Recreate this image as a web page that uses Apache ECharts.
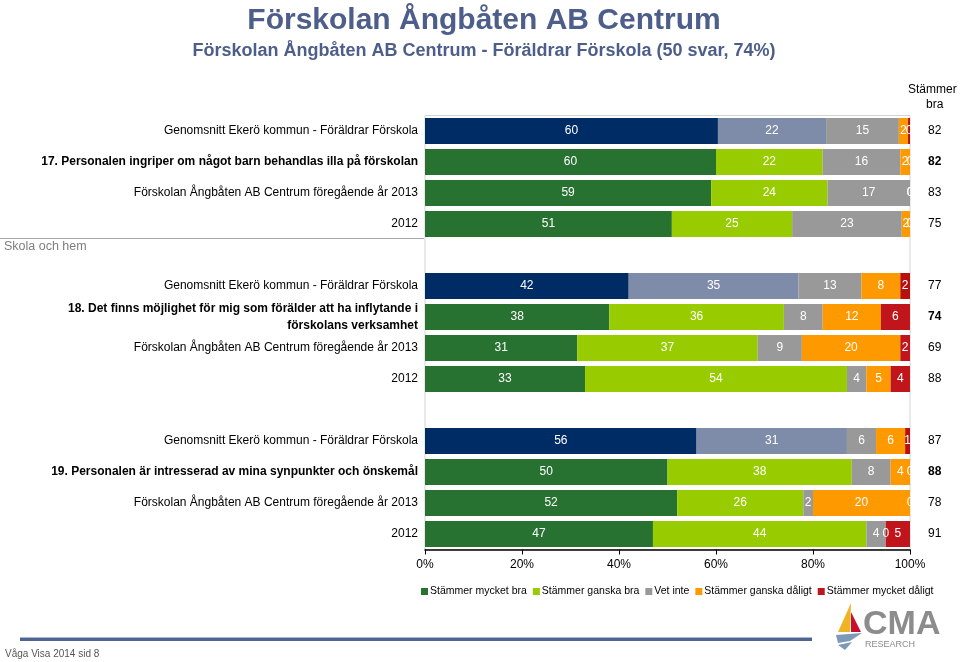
<!DOCTYPE html>
<html>
<head>
<meta charset="utf-8">
<script src="https://cdn.jsdelivr.net/npm/echarts@6/dist/echarts.min.js"></script>
<style>
html,body{margin:0;padding:0;background:#fff;}
#chart{width:960px;height:662px;}
</style>
</head>
<body>
<div id="chart"></div>
<script>
// ---- data ----
const categories = [
  'Genomsnitt Ekerö kommun - Föräldrar Förskola',
  '17. Personalen ingriper om något barn behandlas illa på förskolan',
  'Förskolan Ångbåten AB Centrum föregående år 2013',
  '2012',
  '',
  'Genomsnitt Ekerö kommun - Föräldrar Förskola',
  '18. Det finns möjlighet för mig som förälder att ha inflytande i\nförskolans verksamhet',
  'Förskolan Ångbåten AB Centrum föregående år 2013',
  '2012',
  '',
  'Genomsnitt Ekerö kommun - Föräldrar Förskola',
  '19. Personalen är intresserad av mina synpunkter och önskemål',
  'Förskolan Ångbåten AB Centrum föregående år 2013',
  '2012'
];
const questionRows = [1, 6, 11];
const averageRows = [0, 5, 10];
const seriesNames = ['Stämmer mycket bra', 'Stämmer ganska bra', 'Vet inte', 'Stämmer ganska dåligt', 'Stämmer mycket dåligt'];
const mycketBra   = [60.4, 60, 59, 50.9, '-', 42, 38, 31.4, 33, '-', 56, 50, 52, 47];
const ganskaBra   = [22.3, 22, 24, 24.8, '-', 35, 36, 37.2, 54, '-', 31, 38, 26, 44];
const vetInte     = [15.0, 16, 17, 22.6, '-', 13, 8, 9.1, 4, '-', 6, 8, 2, 4];
const ganskaDaligt= [1.9, 2, 0, 1.7, '-', 8, 12, 20.3, 5, '-', 6, 4, 20, 0];
const mycketDaligt= [0.4, 0, 0, 0, '-', 2, 6, 2.0, 4, '-', 1, 0, 0, 5];
const stammerBra  = ['82', '82', '83', '75', '', '77', '74', '69', '88', '', '87', '88', '78', '91'];

// ---- styles ----
const baseColors = ['#277230', '#99CC00', '#999999', '#FF9900', '#C0161B'];
const avgColors  = ['#002C66', '#7F8CA9', '#999999', '#FF9900', '#B80F0F'];
const FONT = 'Liberation Sans, Arial, sans-serif';
const valueSets = [mycketBra, ganskaBra, vetInte, ganskaDaligt, mycketDaligt];

const chart = echarts.init(document.getElementById('chart'));

const series = valueSets.map((vals, i) => ({
  name: seriesNames[i],
  type: 'bar',
  stack: 'total',
  barCategoryGap: '16%',
  data: vals.map((v, idx) => averageRows.includes(idx) ? { value: v, itemStyle: { color: avgColors[i] } } : v),
  itemStyle: { color: baseColors[i] },
  label: {
    show: true,
    position: 'inside',
    color: '#ffffff',
    fontFamily: FONT,
    fontSize: 12,
    formatter: (p) => String(Math.round(p.value))
  },
  emphasis: { disabled: true },
  animation: false
}));

const option = {
  animation: false,
  color: baseColors,
  textStyle: { fontFamily: FONT },
  title: [
    { text: 'Förskolan Ångbåten AB Centrum', left: 479, textAlign: 'center', top: 1,
      textStyle: { fontFamily: FONT, fontSize: 30, fontWeight: 'bold', color: '#4D5E8A' } },
    { text: 'Förskolan Ångbåten AB Centrum - Föräldrar Förskola (50 svar, 74%)', left: 479, textAlign: 'center', top: 37,
      textStyle: { fontFamily: FONT, fontSize: 18, fontWeight: 'bold', color: '#4D5E8A' } }
  ],
  legend: {
    data: seriesNames,
    left: 416, top: 581, width: 560,
    icon: 'rect', itemWidth: 7, itemHeight: 7, itemGap: 6,
    textStyle: { fontFamily: FONT, fontSize: 10.5, color: '#000', padding: [0, 0, 0, -3] },
    selectedMode: false
  },
  grid: {
    left: 425, right: 50, top: 115.5, bottom: 112.5,
    show: true, borderColor: '#D4D4D4', borderWidth: 1, backgroundColor: 'transparent'
  },
  xAxis: {
    type: 'value', min: 0, max: 100, interval: 20,
    axisLine: { show: true, lineStyle: { color: '#000', width: 1.5 } },
    axisTick: { show: true, length: 5, lineStyle: { color: '#000' } },
    splitLine: { show: false },
    axisLabel: { formatter: '{value}%', fontFamily: FONT, fontSize: 12, color: '#000', margin: 9 }
  },
  yAxis: [
    {
      type: 'category', data: categories, inverse: true,
      axisLine: { show: false }, axisTick: { show: false },
      axisLabel: {
        fontFamily: FONT, fontSize: 12, color: '#000', margin: 7, interval: 0,
        formatter: (v, idx) => questionRows.includes(idx) ? '{b|' + v.split('\n').join('}\n{b|') + '}' : v,
        rich: { b: { fontWeight: 'bold', fontSize: 12, fontFamily: FONT, color: '#000', lineHeight: 17 } }
      }
    },
    {
      type: 'category', data: stammerBra, inverse: true, position: 'right',
      axisLine: { show: false }, axisTick: { show: false },
      axisLabel: {
        fontFamily: FONT, fontSize: 12, color: '#000', margin: 18, interval: 0,
        formatter: (v, idx) => questionRows.includes(idx) ? '{b|' + v + '}' : v,
        rich: { b: { fontWeight: 'bold', fontSize: 12, fontFamily: FONT, color: '#000' } }
      }
    }
  ],
  series: series,
  graphic: [
    { type: 'text', left: 908, top: 84, style: { text: 'Stämmer', font: '12px ' + FONT, fill: '#000' } },
    { type: 'text', left: 926, top: 99, style: { text: 'bra', font: '12px ' + FONT, fill: '#000' } },
    { type: 'line', shape: { x1: 0, y1: 238.5, x2: 424, y2: 238.5 }, style: { stroke: '#A6A6A6', lineWidth: 1 } },
    { type: 'text', left: 4, top: 240, style: { text: 'Skola och hem', font: '12.5px ' + FONT, fill: '#7F7F7F' } },
    { type: 'rect', shape: { x: 20, y: 637, width: 792, height: 4 }, style: { fill: '#4E6491' } },
    { type: 'line', shape: { x1: 20, y1: 637.5, x2: 812, y2: 637.5 }, style: { stroke: '#A9B6D2', lineWidth: 1 } },
    { type: 'text', left: 5, top: 649, style: { text: 'Våga Visa 2014 sid 8', font: '10px ' + FONT, fill: '#555' } },
    // logo
    { type: 'polygon', shape: { points: [[851, 603], [838, 632], [850, 632]] }, style: { fill: '#F0B323' } },
    { type: 'polygon', shape: { points: [[851, 612], [851, 632], [861, 632]] }, style: { fill: '#C8102E' } },
    { type: 'polygon', shape: { points: [[836, 635], [862, 633], [850, 641], [838, 643]] }, style: { fill: '#7E99B7' } },
    { type: 'polygon', shape: { points: [[838, 645], [852, 642], [845, 650]] }, style: { fill: '#7E99B7' } },
    { type: 'text', left: 863, top: 608, style: { text: 'CMA', font: 'bold 34px ' + FONT, fill: '#8C8C8C' } },
    { type: 'text', left: 865, top: 640, style: { text: 'RESEARCH', font: '9px ' + FONT, fill: '#8C8C8C' } }
  ]
};
chart.setOption(option);
</script>
</body>
</html>
